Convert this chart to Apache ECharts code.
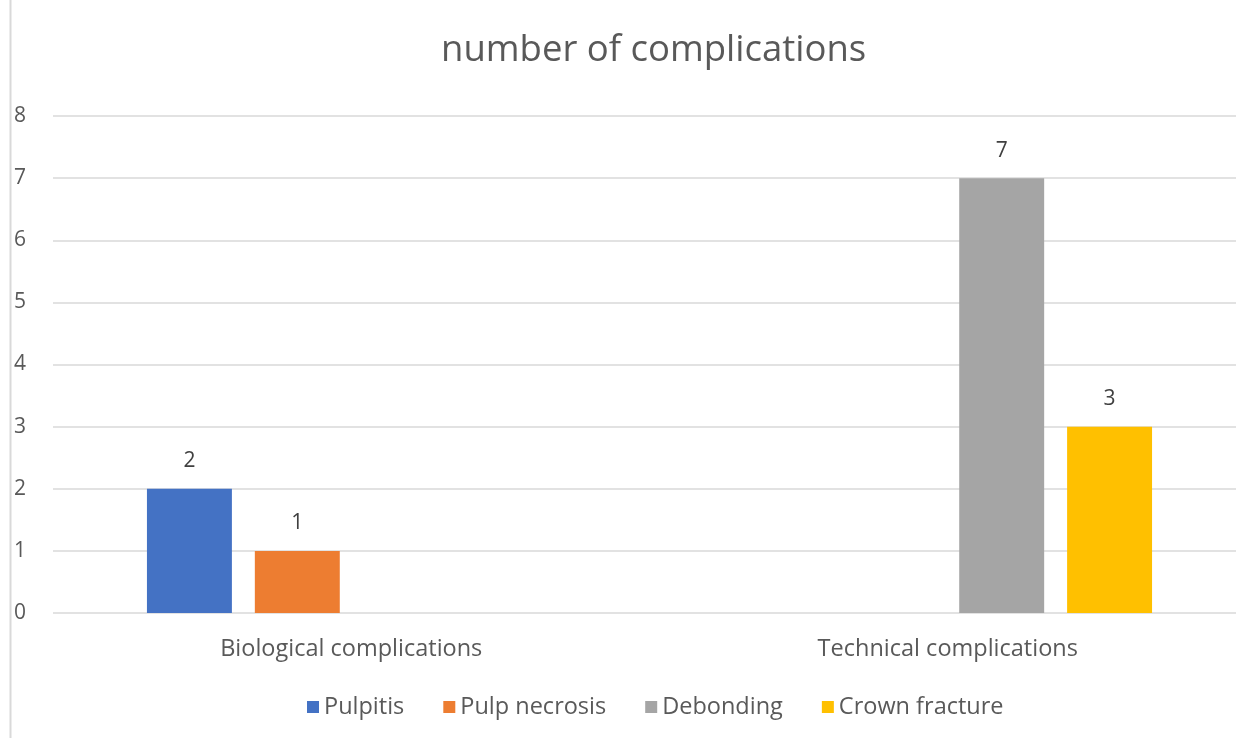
<!DOCTYPE html>
<html>
<head>
<meta charset="utf-8">
<script src="https://cdn.jsdelivr.net/npm/echarts@6/dist/echarts.min.js"></script>
<style>
  html, body { margin: 0; padding: 0; background: #fff; }
  #chart { width: 1236px; height: 738px; }
</style>
</head>
<body>
<div id="chart"></div>
<script>
  const categories = ['Biological complications', 'Technical complications'];
  const seriesNames = ['Pulpitis', 'Pulp necrosis', 'Debonding', 'Crown fracture'];
  const pulpitis = [2, null];
  const pulpNecrosis = [1, null];
  const debonding = [null, 7];
  const crownFracture = [null, 3];
  const colors = ['#4472C4', '#ED7D31', '#A5A5A5', '#FFC000'];

  const font = 'Open Sans';
  const textColor = '#595959';

  const chart = echarts.init(document.getElementById('chart'));

  const values = [pulpitis, pulpNecrosis, debonding, crownFracture];
  const series = seriesNames.map((name, i) => ({
    name: name,
    type: 'bar',
    data: values[i],
    itemStyle: { color: colors[i] },
    barGap: '27%',
    barCategoryGap: '31.5%',
    label: {
      show: true,
      position: 'top',
      distance: 17,
      color: '#404040',
      fontFamily: font,
      fontSize: 21
    }
  }));

  chart.setOption({
    color: colors,
    animation: false,
    // the source chart is cropped on the right, so title and legend sit right of centre
    title: {
      text: 'number of complications',
      left: 436,
      top: 27,
      textStyle: { fontFamily: font, fontSize: 36.5, fontWeight: 'normal', color: textColor }
    },
    legend: {
      top: 690,
      left: 302,
      itemWidth: 12,
      itemHeight: 12,
      itemGap: 39,
      icon: 'rect',
      textStyle: { fontFamily: font, fontSize: 23.5, color: textColor }
    },
    grid: { left: 53, right: -10, top: 116, bottom: 125, outerBoundsMode: 'none' },
    xAxis: {
      type: 'category',
      data: categories,
      axisLine: { show: false },
      axisTick: { show: false },
      axisLabel: { fontFamily: font, fontSize: 23.5, color: textColor, margin: 24 }
    },
    yAxis: {
      type: 'value',
      min: 0,
      max: 8,
      interval: 1,
      axisLine: { show: false },
      axisTick: { show: false },
      splitLine: { lineStyle: { color: '#d9d9d9', width: 1.5 } },
      axisLabel: { fontFamily: font, fontSize: 21, color: textColor, margin: 39, align: 'left' }
    },
    graphic: [{
      type: 'line',
      shape: { x1: 10.5, y1: 0, x2: 10.5, y2: 738 },
      style: { stroke: '#d9d9d9', lineWidth: 2 }
    }],
    series: series
  });
</script>
</body>
</html>
